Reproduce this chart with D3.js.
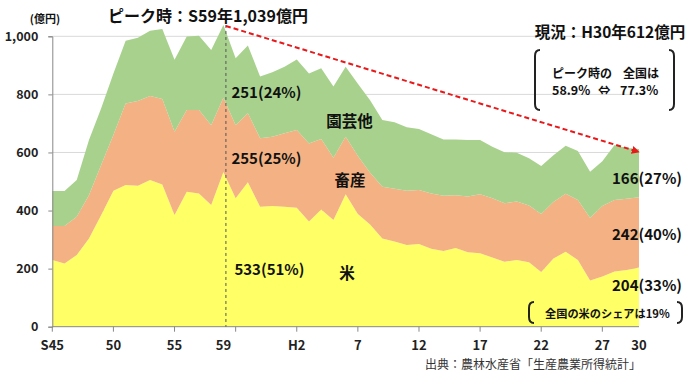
<!DOCTYPE html>
<html><head><meta charset="utf-8">
<script src="https://cdn.jsdelivr.net/npm/d3@7"></script>
<style>
html,body{margin:0;padding:0;background:#fff;}
svg{display:block;font-family:"Noto Sans CJK JP","Noto Sans",sans-serif;}
</style></head>
<body><svg id="c" width="696" height="379"></svg>
<script>
// Years S45 (1970) .. H30 (2018)
const years = d3.range(1970, 2019);
const rice = [230,218,247,304,385,468,488,485,505,490,385,465,459,419,533,442,497,413,416,413,
  410,362,404,367,456,388,352,304,293,281,285,268,261,271,256,253,238,224,230,222,
  188,235,258,230,159,173,190,195,204];
const livestock = [117,129,132,149,172,192,281,292,289,294,286,281,287,275,255,252,238,236,238,253,
  267,269,242,215,198,200,178,178,182,187,186,191,190,182,192,203,204,201,201,195,
  200,194,200,206,215,243,246,246,242];
const other = [120,120,126,190,195,212,216,218,225,241,248,253,256,259,251,230,233,213,222,229,
  243,241,244,245,241,249,250,230,229,219,210,204,194,192,195,187,178,176,168,163,
  165,161,165,169,160,154,190,174,166];
const seriesNames = ["米","畜産","園芸他"];
const yTicks = [0,200,400,600,800,1000];
const xTickIdx = [0,5,10,15,20,25,30,35,40,45];
const xLabelIdx = [0,5,10,14,20,25,30,35,40,45,48];
const xLabels = ["S45","50","55","59","H2","7","12","17","22","27","30"];

const svg = d3.select("#c");
const x = d3.scaleLinear().domain([0, years.length-1]).range([52.3, 639]);
const y = d3.scaleLinear().domain([0, 1000]).range([326.7, 36.3]);
const colors = ["#FFFF66","#F4B183","#A9D18E"];

const table = years.map((yr,i)=>({i, r:rice[i], l:livestock[i], o:other[i]}));
const stack = d3.stack().keys(["r","l","o"])(table);

// gridlines
svg.append("g").selectAll("line").data(yTicks.filter(d=>d>0)).join("line")
  .attr("x1", x(0)).attr("x2", x(years.length-1))
  .attr("y1", d=>y(d)).attr("y2", d=>y(d))
  .attr("stroke","#d9d9d9").attr("stroke-width",1);

const area = d3.area().x(d=>x(d.data.i)).y0(d=>y(d[0])).y1(d=>y(d[1]));
svg.append("g").selectAll("path").data(stack).join("path")
  .attr("d", area).attr("fill",(d,k)=>colors[k]);

// y axis
const ya = svg.append("g").attr("transform",`translate(${x(0)},0)`)
  .call(d3.axisLeft(y).tickValues(yTicks).tickFormat(d3.format(",")).tickSize(4).tickPadding(10));
ya.select(".domain").attr("stroke","#888");
ya.selectAll(".tick line").attr("stroke","#888");
ya.selectAll("text").attr("font-size",12.5).attr("font-weight","bold").attr("fill","#222")
  .attr("font-family","'Noto Sans CJK JP',sans-serif");

// x axis
const xa = svg.append("g").attr("transform",`translate(0,${y(0)})`);
xa.append("line").attr("x1",x(0)).attr("x2",x(years.length-1)).attr("stroke","#888");
xa.selectAll("line.t").data(xTickIdx).join("line").attr("class","t")
  .attr("x1",d=>x(d)).attr("x2",d=>x(d)).attr("y1",0).attr("y2",5).attr("stroke","#888");
xa.selectAll("text").data(xLabelIdx).join("text")
  .attr("x",d=>x(d)).attr("y",23).attr("text-anchor","middle")
  .attr("font-size",13).attr("font-weight","bold").attr("fill","#222")
  .text((d,k)=>xLabels[k]);

// peak dashed vertical line
const peakI = 14;
const peakTotal = rice[peakI]+livestock[peakI]+other[peakI];
svg.append("line").attr("x1",x(peakI)+2.5).attr("x2",x(peakI)+2.5)
  .attr("y1",y(peakTotal)).attr("y2",y(0))
  .attr("stroke","#555").attr("stroke-width",1).attr("stroke-dasharray","3,3");

// red dashed arrow
const last = years.length-1;
const lastTotal = rice[last]+livestock[last]+other[last];
svg.append("defs").append("marker").attr("id","ah").attr("viewBox","0 0 10 10")
  .attr("refX",9).attr("refY",5).attr("markerWidth",4).attr("markerHeight",4)
  .attr("orient","auto").append("path").attr("d","M0,0L10,5L0,10Z").attr("fill","#E8191B");
svg.append("line").attr("x1",x(peakI)+2.5).attr("y1",y(peakTotal)+1)
  .attr("x2",x(last)).attr("y2",y(lastTotal)+3)
  .attr("stroke","#E8191B").attr("stroke-width",2).attr("stroke-dasharray","5,3")
  .attr("marker-end","url(#ah)");

function txt(s, xx, yy, size, opts={}){
  return svg.append("text").attr("x",xx).attr("y",yy).attr("font-size",size)
    .attr("font-weight",opts.weight||"bold").attr("fill",opts.fill||"#111")
    .attr("text-anchor",opts.anchor||"start").attr("dominant-baseline","central").text(s);
}
txt("(億円)", 45, 18, 11, {anchor:"middle"});
txt("ピーク時：S59年1,039億円", 208, 15, 16, {anchor:"middle"});
txt("現況：H30年612億円", 610, 31, 15.5, {anchor:"middle"});
txt("ピーク時の", 552, 72, 12);
txt("全国は", 623, 72, 12);
txt("58.9%", 552, 89.5, 12.5);
txt("⇔", 598, 89.5, 12.5);
txt("77.3%", 620, 89.5, 12.5);

const pct = v => Math.round(v/peakTotal*100);
txt(`${other[peakI]}(${pct(other[peakI])}%)`, x(peakI)+8, 91, 15);
txt(`${livestock[peakI]}(${pct(livestock[peakI])}%)`, x(peakI)+8, 157.5, 15);
txt(`${rice[peakI]}(${pct(rice[peakI])}%)`, x(peakI)+11, 268.5, 15);
txt(seriesNames[2], 349.5, 120, 15.5, {anchor:"middle"});
txt(seriesNames[1], 350, 179, 15.5, {anchor:"middle"});
txt(seriesNames[0], 347, 272, 15.5, {anchor:"middle"});
const pctL = v => Math.round(v/lastTotal*100);
txt(`${other[last]}(${pctL(other[last])}%)`, 612, 177, 15);
txt(`${livestock[last]}(${pctL(livestock[last])}%)`, 612, 233, 15);
txt(`${rice[last]}(${pctL(rice[last])}%)`, 612, 284, 15);
txt("全国の米のシェアは19%", 545, 313, 11.2);
txt("出典：農林水産省「生産農業所得統計」", 425, 363.5, 12, {weight:"normal", fill:"#333"});

// brackets
function bracket(x0, y0, y1, dir){
  const w = 5*dir;
  svg.append("path").attr("d",`M${x0+w},${y0} Q${x0},${y0} ${x0},${y0+6} L${x0},${y1-6} Q${x0},${y1} ${x0+w},${y1}`)
    .attr("fill","none").attr("stroke","#222").attr("stroke-width",2);
}
bracket(535, 50, 110, 1);
bracket(674, 50, 110, -1);
bracket(529, 302, 323, 1);
bracket(682, 302, 323, -1);
</script></body></html>
